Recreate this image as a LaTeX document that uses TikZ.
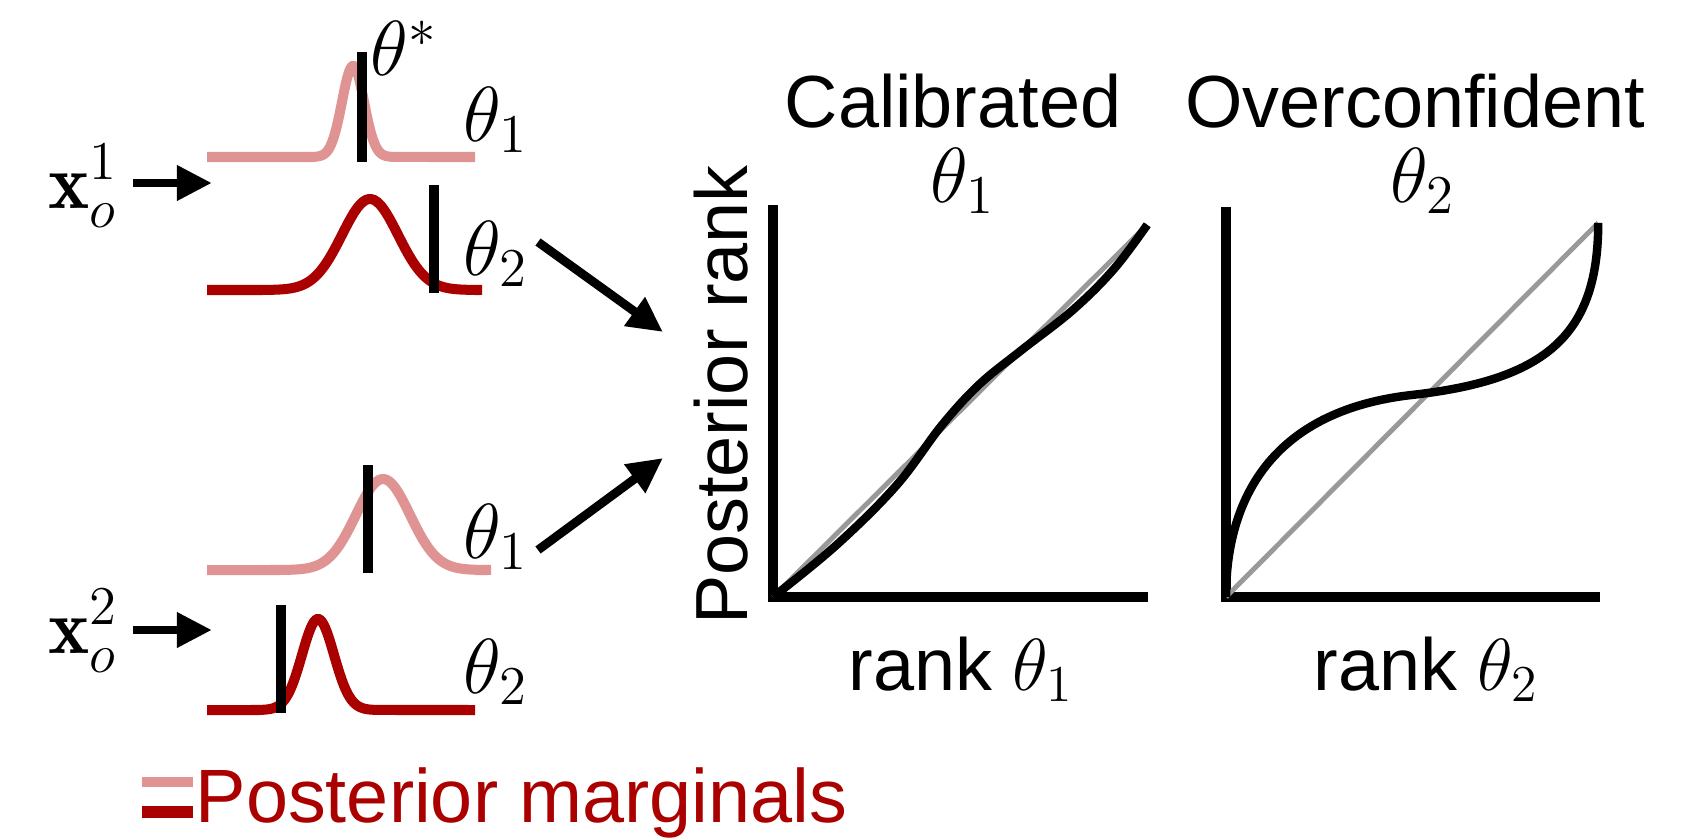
\RequirePackage{fix-cm}
\documentclass[tikz,border=0pt]{standalone}
\usepackage{amsmath}
\usepackage{fontspec}
\newfontfamily\helv{Liberation Sans}
\usetikzlibrary{arrows.meta, positioning}

\definecolor{margpale}{RGB}{224,147,147}
\definecolor{margdark}{RGB}{170,0,0}
\definecolor{diaggray}{RGB}{153,153,153}

\begin{document}
\begin{tikzpicture}[x=0.01cm, y=-0.01cm,
    title/.style={inner sep=0pt, font=\helv\fontsize{21}{25}\selectfont},
    mth/.style={inner sep=0pt, font=\fontsize{22.2}{26}\selectfont},
    marg/.style={line width=2.85pt},
    truth/.style={draw=black, line width=2.6pt},
    axes/.style={draw=black, line width=2.85pt, miter limit=4},
    diag/.style={draw=diaggray, line width=1.4pt},
    rankcurve/.style={draw=black, line width=2.4pt},
    line/.style={draw, line width=2.5pt, -{Triangle[length=10pt, width=9.5pt]}}]

    \useasboundingbox (0,0) rectangle (1706,839);

    % posterior marginals
    \foreach \mpos/\msig/\bs/\col in {353/11/157/margpale, 370/28/290/margdark,
                                      383/27/570/margpale, 318/16/710/margdark} {
        \pgfmathsetmacro\lo{\mpos-4*\msig}
        \pgfmathsetmacro\hi{\mpos+4*\msig}
        \draw[marg, draw=\col] (207,\bs) -- (\lo,\bs)
            -- plot[domain=\lo:\hi, samples=80] (\x, {\bs-91*exp(-((\x-\mpos)/\msig)^2/2)})
            -- (475,\bs);
    }
    \draw[truth] (362,52) -- (362,162);
    \draw[truth] (434,185) -- (434,293);
    \draw[truth] (368,465) -- (368,573);
    \draw[truth] (281,605) -- (281,713);

    \node [mth, anchor=base west] (tstar) at (370,75) {$\theta^*$};
    \node [mth, anchor=base west] (ta1) at (463,141) {$\theta_1$};
    \node [mth, anchor=base west] (ta2) at (463,275) {$\theta_2$};
    \node [mth, anchor=base west] (tb1) at (463,558) {$\theta_1$};
    \node [mth, anchor=base west] (tb2) at (463,693) {$\theta_2$};
    \node [mth, anchor=base west] (xo1) at (48,208) {$\mathbf{x}_o^1$};
    \node [mth, anchor=base west] (xo2) at (48,653) {$\mathbf{x}_o^2$};

    \coordinate (xo1tip) at (212,183);
    \coordinate (xo2tip) at (212,630);
    \path [line, shorten <=0.14cm] (xo1.east |- xo1tip) -- (xo1tip);
    \path [line, shorten <=0.14cm] (xo2.east |- xo2tip) -- (xo2tip);

    % arrows into the rank plots
    \coordinate (upfrom) at (538,242);
    \coordinate (upto) at (663,332);
    \coordinate (lowfrom) at (538,550);
    \coordinate (lowto) at (663,458);
    \path [line] (upfrom) -- (upto);
    \path [line] (lowfrom) -- (lowto);

    % calibrated plot
    \draw[axes] (773,205) -- (773,597) -- (1148,597);
    \begin{scope}[shift={(773,597)}, x=3.74cm, y=3.72cm]
        \draw[diag] (0,0) -- (1,1);
        \draw[rankcurve] plot[smooth, tension=0.6] coordinates {(0,0) (0.17,0.14)
            (0.33,0.30) (0.45,0.46) (0.55,0.57) (0.66,0.66) (0.80,0.77) (0.91,0.88) (1,1)};
    \end{scope}

    % overconfident plot
    \draw[axes] (1226,207) -- (1226,597) -- (1600,597);
    \begin{scope}[shift={(1226,597)}, x=3.72cm, y=3.74cm]
        \draw[diag] (0,0) -- (1,1);
        \draw[rankcurve] (0,0) .. controls (0,0.28) and (0.14,0.5) .. (0.5,0.54)
            .. controls (0.86,0.58) and (1,0.7) .. (1,1);
    \end{scope}

    \node [title, anchor=base] (calib) at (953,127) {Calibrated};
    \node [mth, anchor=base] (calth) at (963,202) {$\theta_1$};
    \node [title, anchor=base] (overc) at (1415,127) {Overconfident};
    \node [mth, anchor=base] (overth) at (1423,202) {$\theta_2$};
    \node [title, rotate=90, anchor=base] (prank) at (747,395) {Posterior rank};
    \node [title, anchor=base] (xlab1) at (961,690) {rank $\theta_1$};
    \node [title, anchor=base] (xlab2) at (1426,690) {rank $\theta_2$};

    % legend
    \draw[marg, draw=margpale] (142,782) -- (193,782);
    \draw[marg, draw=margdark, line width=3.3pt] (142,812) -- (193,812);
    \node [title, font=\helv\fontsize{21.5}{25}\selectfont, text=margdark, anchor=base west]
        (legtxt) at (195,822) {Posterior marginals};
\end{tikzpicture}
\end{document}
